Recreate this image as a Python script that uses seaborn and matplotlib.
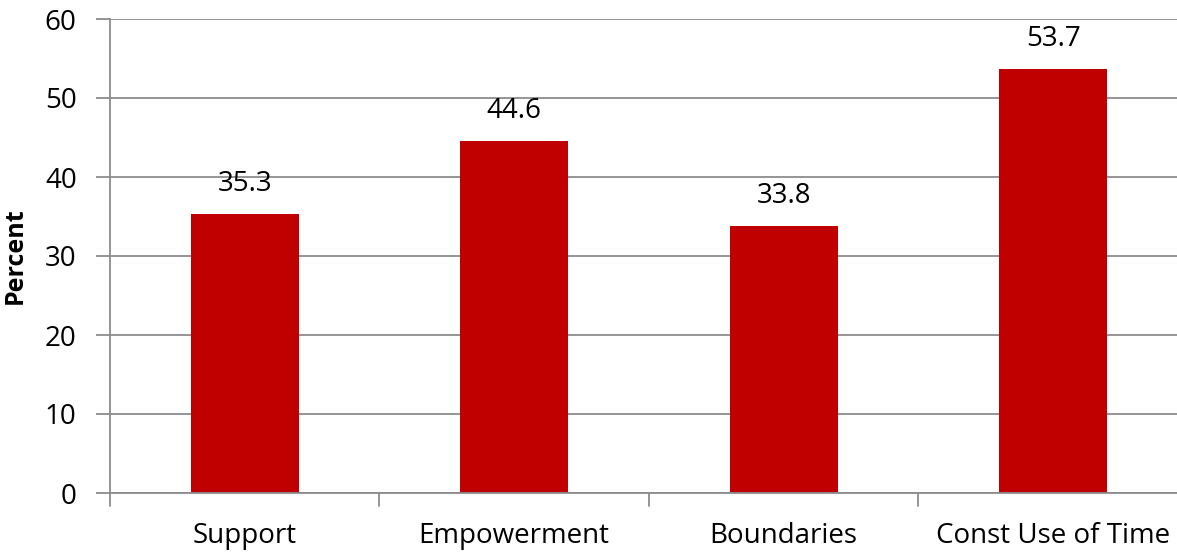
import matplotlib
matplotlib.use("Agg")
import matplotlib.pyplot as plt
import seaborn as sns
import pandas as pd

categories = ["Support", "Empowerment", "Boundaries", "Const Use of Time"]
values = [35.3, 44.6, 33.8, 53.7]
yticks = [0, 10, 20, 30, 40, 50, 60]

sns.set_theme(style="white")
plt.rcParams['font.family'] = ['Open Sans', 'DejaVu Sans']
plt.rcParams['text.color'] = 'black'
plt.rcParams['xtick.color'] = 'black'
plt.rcParams['ytick.color'] = 'black'
plt.rcParams['axes.labelcolor'] = 'black'

df = pd.DataFrame({"cat": categories, "val": values})

fig = plt.figure(figsize=(11.77, 5.55), dpi=100)
ax = fig.add_axes([110/1177, 62/555, (1188-110)/1177, (493-19)/555])
sns.barplot(data=df, x="cat", y="val", color="#C00000", width=0.4, saturation=1,
            linewidth=0, ax=ax)

ax.set_ylim(0, 60)
ax.set_xlim(-0.5, 3.5)
ax.set_yticks(yticks)
ax.yaxis.grid(True, color="#8c8c8c", linewidth=1.3)
ax.set_axisbelow(True)
for s in ["top", "right"]:
    ax.spines[s].set_visible(False)
for s in ["left", "bottom"]:
    ax.spines[s].set_color("#8c8c8c")
    ax.spines[s].set_linewidth(1.3)

ax.set_xticks([0, 1, 2, 3])
ax.set_xticklabels(categories, fontsize=20)
ax.tick_params(axis="x", length=0, pad=21)
for b in [-0.5, 0.5, 1.5, 2.5]:
    ax.plot([b, b], [0, -1.6], color="#8c8c8c", lw=1.3, clip_on=False)
ax.tick_params(axis="y", left=True, length=10, color="#8c8c8c", width=1.3,
               labelsize=20, pad=14, labelcolor="black")

ax.set_xlabel("")
ax.set_ylabel("Percent", fontsize=18, fontweight="bold", labelpad=12)

for i, v in enumerate(values):
    ax.text(i, v + 2.0, f"{v:.1f}", ha="center", va="bottom", fontsize=20, color="black")

fig.savefig("out.png", dpi=100)
